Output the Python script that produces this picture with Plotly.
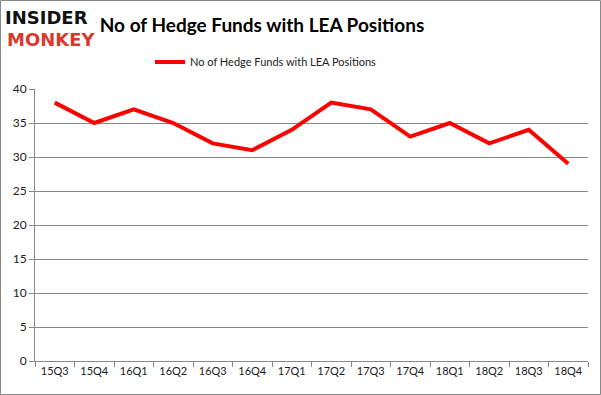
import plotly.graph_objects as go

quarters = ["15Q3", "15Q4", "16Q1", "16Q2", "16Q3", "16Q4", "17Q1", "17Q2",
            "17Q3", "17Q4", "18Q1", "18Q2", "18Q3", "18Q4"]
hedge_funds = [38, 35, 37, 35, 32, 31, 34, 38, 37, 33, 35, 32, 34, 29]
series_name = "No of Hedge Funds with LEA Positions"
y_ticks = [0, 5, 10, 15, 20, 25, 30, 35, 40]

W, H = 601, 395
ML, MR, MT, MB = 35, 13, 89, 34
PW, PH = W - ML - MR, H - MT - MB

def px_x(x):
    return (x - ML) / PW

def px_y(y):
    return (H - MB - y) / PH

fig = go.Figure()
fig.add_trace(go.Scatter(
    x=quarters, y=hedge_funds, mode="lines", name=series_name,
    line=dict(color="#FF0000", width=4),
))

fig.update_layout(
    width=W, height=H,
    margin=dict(l=ML, r=MR, t=MT, b=MB, autoexpand=False),
    paper_bgcolor="white", plot_bgcolor="white",
    font=dict(family="Lato, Liberation Sans, sans-serif", color="#222"),
    showlegend=True,
    legend=dict(orientation="h", x=px_x(266), xanchor="center", y=px_y(62), yanchor="middle",
                font=dict(size=11, color="#222"), itemwidth=30),
    title=dict(text="<b>No of Hedge Funds with LEA Positions</b>",
               xref="container", yref="container",
               x=262 / W, xanchor="center", y=1 - 25 / H, yanchor="middle",
               font=dict(size=19, family="Lato, Liberation Sans, sans-serif", color="#000")),
    xaxis=dict(type="category", range=[-0.5, len(quarters) - 0.5], automargin=False,
               tickson="boundaries", ticks="outside", ticklen=5, tickcolor="#888",
               showline=True, linecolor="#888", linewidth=1, showgrid=False,
               tickfont=dict(size=11, color="#222")),
    yaxis=dict(range=[0, 40], tickvals=y_ticks, showgrid=True, gridcolor="#888",
               gridwidth=1, showline=True, linecolor="#888", linewidth=1, automargin=False,
               ticks="outside", ticklen=5, tickcolor="#888", zeroline=False,
               tickfont=dict(size=12, color="#222")),
)

fig.add_annotation(text="<b>INSIDER</b>", xref="paper", yref="paper",
                   x=px_x(3), y=px_y(17), xanchor="left", yanchor="middle",
                   showarrow=False,
                   font=dict(size=18, family="DejaVu Sans, sans-serif", color="#111"))
fig.add_annotation(text="<b>MONKEY</b>", xref="paper", yref="paper",
                   x=px_x(5), y=px_y(40), xanchor="left", yanchor="middle",
                   showarrow=False,
                   font=dict(size=18, family="DejaVu Sans, sans-serif", color="#D93A2B"))

fig.add_shape(type="rect", xref="paper", yref="paper",
              x0=px_x(0.5), x1=px_x(W - 0.5), y0=px_y(H - 0.5), y1=px_y(0.5),
              line=dict(color="#888", width=1), layer="below")

fig.write_html("out.html", config={"displayModeBar": False},
               post_script="document.body.style.margin='0';document.body.style.overflow='hidden';")
